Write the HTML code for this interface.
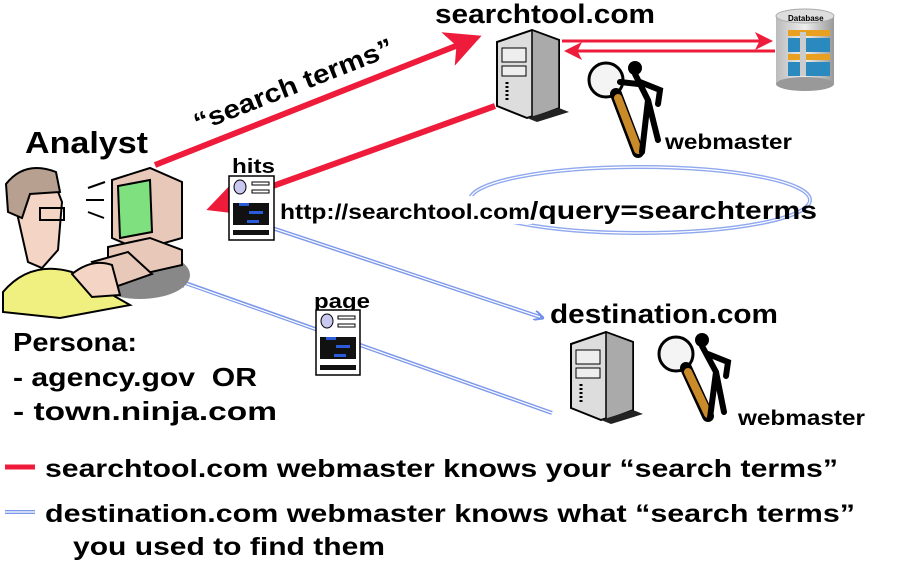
<!DOCTYPE html>
<html><head><meta charset="utf-8"><style>
body{margin:0;background:#fff}
svg{display:block}
text{font-family:"Liberation Sans",Arial,sans-serif;font-weight:bold;fill:#000}
</style></head><body>
<svg width="904" height="564" viewBox="0 0 904 564" xmlns="http://www.w3.org/2000/svg">
<defs>
<marker id="ra" markerWidth="6" markerHeight="6" refX="5" refY="3" orient="auto" markerUnits="strokeWidth"><path d="M0,0 L6,3 L0,6 L1.5,3z" fill="#ee1c3a"/></marker>
<marker id="ba" markerWidth="10" markerHeight="10" refX="9" refY="5" orient="auto" markerUnits="userSpaceOnUse"><path d="M0,0 L10,5 L0,10" fill="none" stroke="#6f8fe8" stroke-width="2"/></marker>
<linearGradient id="db" x1="0" x2="1"><stop offset="0" stop-color="#bbb"/><stop offset=".5" stop-color="#eee"/><stop offset="1" stop-color="#999"/></linearGradient>
</defs>

<!-- titles -->
<text x="435" y="23" font-size="27" textLength="220" lengthAdjust="spacingAndGlyphs">searchtool.com</text>
<text x="25" y="153" font-size="31" textLength="123" lengthAdjust="spacingAndGlyphs">Analyst</text>
<text x="550" y="323" font-size="27" textLength="228" lengthAdjust="spacingAndGlyphs">destination.com</text>

<!-- red lines -->
<line x1="155" y1="165" x2="476" y2="38" stroke="#ee1c3a" stroke-width="6" marker-end="url(#ra)"/>
<text transform="translate(198,132) rotate(-21.5)" font-size="26" textLength="212" lengthAdjust="spacingAndGlyphs">“search terms”</text>
<line x1="495" y1="106" x2="212" y2="208" stroke="#ee1c3a" stroke-width="6" marker-end="url(#ra)"/>
<line x1="562" y1="41" x2="770" y2="41" stroke="#ee1c3a" stroke-width="3" marker-end="url(#ra)"/>
<line x1="775" y1="51" x2="567" y2="51" stroke="#ee1c3a" stroke-width="3" marker-end="url(#ra)"/>

<!-- blue ellipse -->
<ellipse cx="640" cy="200" rx="170" ry="33" fill="none" stroke="#8fa8ee" stroke-width="4"/>
<ellipse cx="640" cy="200" rx="170" ry="33" fill="none" stroke="#fff" stroke-width="1.2"/>

<!-- blue lines -->
<line x1="245" y1="219" x2="543" y2="318" stroke="#7c98ea" stroke-width="4" marker-end="url(#ba)"/>
<line x1="245" y1="219" x2="540" y2="317" stroke="#fff" stroke-width="1.2"/>
<line x1="552" y1="413" x2="177" y2="280" stroke="#7c98ea" stroke-width="4" marker-end="url(#ba)"/>
<line x1="552" y1="413" x2="182" y2="282" stroke="#fff" stroke-width="1.2"/>

<!-- url text -->
<rect x="278" y="196" width="254" height="28" fill="#fff"/>
<text x="280" y="219" font-size="21" textLength="250" lengthAdjust="spacingAndGlyphs">http://searchtool.com</text>
<text x="530" y="219" font-size="25" textLength="287" lengthAdjust="spacingAndGlyphs">/query=searchterms</text>

<!-- hits doc -->
<text x="232" y="173" font-size="20" textLength="43" lengthAdjust="spacingAndGlyphs">hits</text>
<g transform="translate(229,176)">
<rect x="0" y="0" width="45" height="64" fill="#fff" stroke="#000" stroke-width="1.5"/>
<ellipse cx="11" cy="11" rx="6" ry="7" fill="#c8c8f0" stroke="#000"/>
<rect x="23" y="6" width="17" height="3" fill="none" stroke="#000"/>
<rect x="23" y="14" width="17" height="3" fill="none" stroke="#000"/>
<rect x="4" y="27" width="36" height="22" fill="#111"/>
<rect x="10" y="27" width="10" height="3" fill="#2a5bd8"/>
<rect x="20" y="35" width="14" height="3" fill="#2a5bd8"/>
<rect x="18" y="44" width="12" height="3" fill="#2a5bd8"/>
<rect x="4" y="54" width="36" height="5" fill="#111"/>
</g>

<!-- page doc -->
<text x="314" y="308" font-size="20" textLength="56" lengthAdjust="spacingAndGlyphs">page</text>
<g transform="translate(316,310)">
<rect x="0" y="0" width="44" height="65" fill="#fff" stroke="#000" stroke-width="1.5"/>
<ellipse cx="11" cy="11" rx="6" ry="7" fill="#c8c8f0" stroke="#000"/>
<rect x="22" y="6" width="17" height="3" fill="none" stroke="#000"/>
<rect x="22" y="14" width="17" height="3" fill="none" stroke="#000"/>
<rect x="4" y="27" width="36" height="22" fill="#111"/>
<rect x="10" y="27" width="10" height="3" fill="#2a5bd8"/>
<rect x="20" y="35" width="14" height="3" fill="#2a5bd8"/>
<rect x="18" y="44" width="12" height="3" fill="#2a5bd8"/>
<rect x="4" y="55" width="36" height="5" fill="#111"/>
</g>

<!-- servers -->
<g transform="translate(497,30)">
<polygon points="0,12 35,0 62,10 62,78 30,88 0,76" fill="#ddd" stroke="#000" stroke-width="2"/>
<polygon points="35,0 62,10 62,78 35,88" fill="#aaa" stroke="#000" stroke-width="1.5"/>
<rect x="5" y="18" width="24" height="14" fill="#eee" stroke="#000"/>
<rect x="5" y="36" width="24" height="10" fill="#eee" stroke="#000"/>
<line x1="10" y1="52" x2="10" y2="72" stroke="#000" stroke-width="3" stroke-dasharray="2,2"/>
<polygon points="30,88 62,78 72,82 40,92" fill="#222"/>
</g>
<g transform="translate(571,332)">
<polygon points="0,12 35,0 62,10 62,78 30,88 0,76" fill="#ddd" stroke="#000" stroke-width="2"/>
<polygon points="35,0 62,10 62,78 35,88" fill="#aaa" stroke="#000" stroke-width="1.5"/>
<rect x="5" y="18" width="24" height="14" fill="#eee" stroke="#000"/>
<rect x="5" y="36" width="24" height="10" fill="#eee" stroke="#000"/>
<line x1="10" y1="52" x2="10" y2="72" stroke="#000" stroke-width="3" stroke-dasharray="2,2"/>
<polygon points="30,88 62,78 72,82 40,92" fill="#222"/>
</g>

<!-- webmaster figures -->
<g transform="translate(580,60)">
<circle cx="26" cy="20" r="17" fill="#f4f4f4" stroke="#000" stroke-width="3"/>
<path d="M36,34 L58,92" stroke="#000" stroke-width="12" stroke-linecap="round"/>
<path d="M38,38 L58,90" stroke="#c98a2a" stroke-width="8" stroke-linecap="round"/>
<circle cx="55" cy="8" r="7" fill="#000"/>
<path d="M55,14 L68,40 L62,92 M68,40 L78,80 M60,22 L80,30 L78,44 M58,24 L40,22" stroke="#000" stroke-width="6" fill="none" stroke-linecap="round"/>
</g>
<g transform="translate(654,332)">
<circle cx="22" cy="22" r="17" fill="#f4f4f4" stroke="#000" stroke-width="3"/>
<path d="M32,36 L54,84" stroke="#000" stroke-width="12" stroke-linecap="round"/>
<path d="M34,40 L54,82" stroke="#c98a2a" stroke-width="8" stroke-linecap="round"/>
<circle cx="48" cy="8" r="7" fill="#000"/>
<path d="M48,14 L62,40 L56,86 M62,40 L70,80 M54,22 L74,30 L72,44" stroke="#000" stroke-width="6" fill="none" stroke-linecap="round"/>
</g>
<text x="665" y="149" font-size="21" textLength="127" lengthAdjust="spacingAndGlyphs">webmaster</text>
<text x="738" y="425" font-size="21" textLength="127" lengthAdjust="spacingAndGlyphs">webmaster</text>

<!-- database -->
<g transform="translate(776,10)">
<rect x="0" y="6" width="58" height="68" fill="url(#db)"/>
<ellipse cx="29" cy="74" rx="29" ry="7" fill="#999"/>
<ellipse cx="29" cy="6" rx="29" ry="7" fill="#ddd" stroke="#aaa"/>
<rect x="12" y="20" width="42" height="6" fill="#e8a020"/>
<rect x="12" y="28" width="42" height="14" fill="#2a8ac0"/>
<rect x="12" y="44" width="42" height="6" fill="#e8a020"/>
<rect x="12" y="52" width="42" height="14" fill="#2a8ac0"/>
<rect x="24" y="22" width="6" height="44" fill="#ccc"/>
<text x="12" y="11" font-size="8">Database</text>
</g>

<!-- analyst clipart -->
<g>
<ellipse cx="140" cy="275" rx="50" ry="24" fill="#888"/>
<polygon points="112,180 150,168 182,182 182,238 140,250 112,238" fill="#e8c8b8" stroke="#000" stroke-width="2"/>
<polygon points="118,186 150,180 152,232 120,238" fill="#7ee07e" stroke="#000" stroke-width="2"/>
<polygon points="108,247 150,238 182,250 182,265 138,275 108,260" fill="#e8c8b8" stroke="#000" stroke-width="2"/>
<polygon points="92,262 128,252 152,274 112,288" fill="#e8c8b8" stroke="#000" stroke-width="2"/>
<path d="M10,182 Q30,166 52,176 L62,202 L58,250 L42,268 L28,262 Z" fill="#f4d4c4" stroke="#000" stroke-width="2"/>
<path d="M6,184 Q25,160 56,172 L60,192 L30,194 L22,218 L8,212Z" fill="#b8a090" stroke="#000" stroke-width="2"/>
<rect x="40" y="208" width="24" height="12" fill="none" stroke="#000" stroke-width="2"/>
<path d="M3,292 Q30,260 72,272 L130,305 L60,318 L3,312Z" fill="#f0f080" stroke="#000" stroke-width="2"/>
<path d="M72,274 Q92,258 112,265 L120,295 L92,297Z" fill="#f4d4c4" stroke="#000" stroke-width="2"/>
<path d="M88,188 L105,182 M86,200 L104,200 M88,212 L104,218" stroke="#000" stroke-width="2"/>
</g>

<!-- persona -->
<text x="13" y="351" font-size="26" textLength="124" lengthAdjust="spacingAndGlyphs">Persona:</text>
<text x="13" y="386" font-size="26" textLength="244" lengthAdjust="spacingAndGlyphs">- agency.gov&#160;&#160;OR</text>
<text x="13" y="420" font-size="26" textLength="264" lengthAdjust="spacingAndGlyphs">- town.ninja.com</text>

<!-- legend -->
<line x1="5" y1="467" x2="35" y2="467" stroke="#ee1c3a" stroke-width="5"/>
<text x="45" y="477" font-size="25" textLength="793" lengthAdjust="spacingAndGlyphs">searchtool.com&#160;webmaster knows your “search terms”</text>
<line x1="5" y1="512" x2="35" y2="512" stroke="#7c98ea" stroke-width="4"/>
<line x1="5" y1="512" x2="35" y2="512" stroke="#fff" stroke-width="1.2"/>
<text x="45" y="522" font-size="25" textLength="810" lengthAdjust="spacingAndGlyphs">destination.com&#160;webmaster knows what “search terms”</text>
<text x="73" y="555" font-size="25" textLength="312" lengthAdjust="spacingAndGlyphs">you used to find them</text>
</svg>
</body></html>
